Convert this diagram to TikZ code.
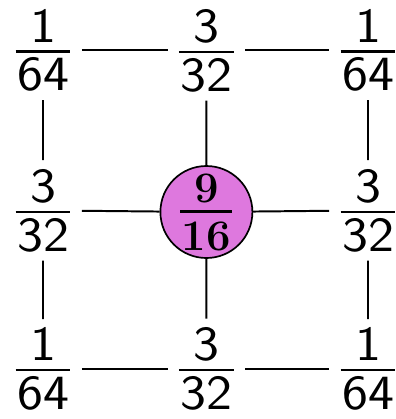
\documentclass[tikz,border=0pt]{standalone}
\usepackage{fontspec}
\usepackage{tikz}
\usetikzlibrary{positioning,calc}
\definecolor{ctV}{HTML}{DE78DE}
% stacked fraction: [rule] {above kern} {below kern} {num} {den}
\newcommand\frc[5][1.8pt]{\vbox{\halign{\hfil\kern1pt##\kern1pt\hfil\cr #4\cr
  \noalign{\kern#2\hrule height #1\kern#3}#5\cr}}}
% same, centred on the baseline and taking no room
\newcommand\zfrc[1]{\makebox[0pt]{\raisebox{0pt}[0pt][0pt]{\raisebox{-0.5\height}{#1}}}}

\begin{document}
\begin{tikzpicture}[every node/.style={font=\fontsize{35}{42}\selectfont\sffamily},
  frcbox/.style={inner xsep=7pt,inner ysep=6pt,xscale=1.12,transform shape},
  edge/.style={line width=1.4pt}]
  \useasboundingbox (0,0) rectangle (9.9,-10.475);
  % corners and sides
  \node[frcbox] (tl) at (1.075,-1.26) {\frc{5.5pt}{3.5pt}{1}{64}};
  \node[frcbox] (tm) at (5.16,-1.26)  {\frc{5.5pt}{3.5pt}{3}{32}};
  \node[frcbox] (tr) at (9.2,-1.26)   {\frc{5.5pt}{3.5pt}{1}{64}};
  \node[frcbox] (ml) at (1.075,-5.26) {\frc{5.5pt}{3.5pt}{3}{32}};
  \node[frcbox] (mr) at (9.2,-5.26)   {\frc{5.5pt}{3.5pt}{3}{32}};
  \node[frcbox] (bl) at (1.075,-9.22) {\frc{5.5pt}{3.5pt}{1}{64}};
  \node[frcbox] (bm) at (5.16,-9.22)  {\frc{5.5pt}{3.5pt}{3}{32}};
  \node[frcbox] (br) at (9.2,-9.22)   {\frc{5.5pt}{3.5pt}{1}{64}};
  % centre
  \node[circle,draw,line width=1.2pt,fill=ctV,minimum size=2.3cm,inner sep=0pt,
    font=\fontsize{31}{37}\selectfont\rmfamily\bfseries] (mm) at (5.16,-5.3)
    {\zfrc{\frc[2.4pt]{5pt}{6pt}{9}{16}}};
  \foreach \a/\b in {tl/tm,tm/tr,ml/mm,mm/mr,bl/bm,bm/br}{
    \draw[edge] (\a) -- (\b);
  }
  \foreach \a/\b in {tl/ml,ml/bl,tm/mm,mm/bm,tr/mr,mr/br}{
    \draw[edge] (\a) -- (\b);
  }
\end{tikzpicture}
\end{document}
